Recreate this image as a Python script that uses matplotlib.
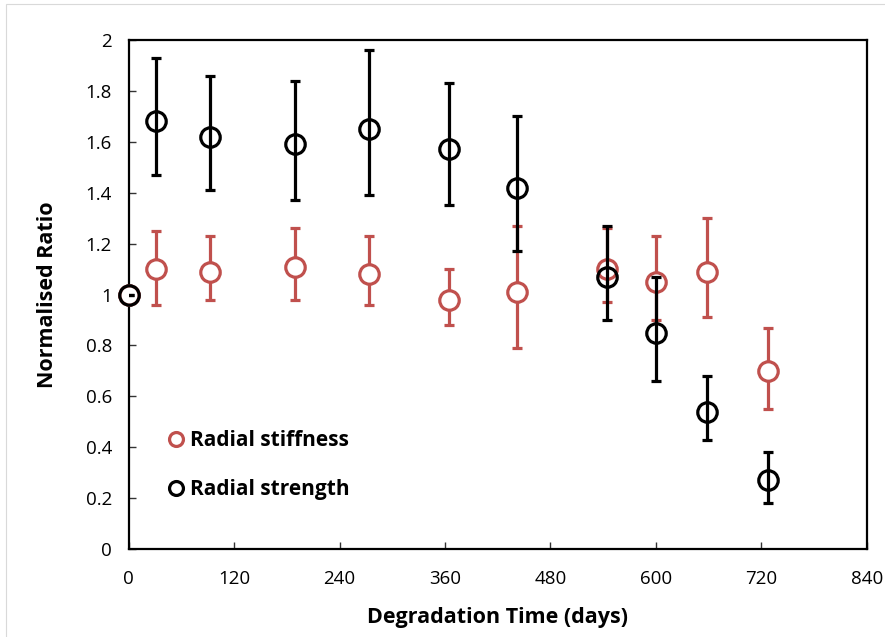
import matplotlib
matplotlib.use("Agg")
import matplotlib.pyplot as plt
from matplotlib.patches import Rectangle

# Data
days = [0, 31, 92, 189, 273, 365, 442, 544, 600, 658, 728]
stiffness = [1.00, 1.10, 1.09, 1.11, 1.08, 0.98, 1.01, 1.10, 1.05, 1.09, 0.70]
stiff_lo = [0.00, 0.14, 0.11, 0.13, 0.12, 0.10, 0.22, 0.13, 0.15, 0.18, 0.15]
stiff_hi = [0.00, 0.15, 0.14, 0.15, 0.15, 0.12, 0.26, 0.16, 0.18, 0.21, 0.17]
strength = [1.00, 1.68, 1.62, 1.59, 1.65, 1.57, 1.42, 1.07, 0.85, 0.54, 0.27]
str_lo = [0.00, 0.21, 0.21, 0.22, 0.26, 0.22, 0.25, 0.17, 0.19, 0.11, 0.09]
str_hi = [0.00, 0.25, 0.24, 0.25, 0.31, 0.26, 0.28, 0.20, 0.22, 0.14, 0.11]

x_ticks = [0, 120, 240, 360, 480, 600, 720, 840]
y_ticks = [0, 0.2, 0.4, 0.6, 0.8, 1, 1.2, 1.4, 1.6, 1.8, 2]
y_ticklabels = ["0", "0.2", "0.4", "0.6", "0.8", "1", "1.2", "1.4", "1.6", "1.8", "2"]

red = "#C0504D"
plt.rcParams['font.family'] = ['Open Sans', 'DejaVu Sans']

fig = plt.figure(figsize=(8.85, 6.37), dpi=100)
fig.patches.append(Rectangle((6/885, -0.01), 1.0, (637-4)/637 + 0.01, transform=fig.transFigure,
                             fill=False, edgecolor="#D9D9D9", linewidth=0.8))
ax = fig.add_axes([128.7/885, (637-549)/637, (866.7-128.7)/885, (549-40)/637])

e1 = ax.errorbar(days, stiffness, yerr=[stiff_lo, stiff_hi], fmt='o', mfc='white', mec=red, ecolor=red,
                 ms=14, mew=2.3, elinewidth=2.3, capsize=3.5, capthick=2.3, zorder=3)
e2 = ax.errorbar(days, strength, yerr=[str_lo, str_hi], fmt='o', mfc='none', mec='black', ecolor='black',
                 ms=14, mew=2.3, elinewidth=2.3, capsize=3.5, capthick=2.3, zorder=4)
for e in (e1, e2):
    e[0].set_clip_on(False)

# legend handles
h1, = ax.plot([], [], 'o', mfc='white', mec=red, ms=10, mew=2.3, label='Radial stiffness')
h2, = ax.plot([], [], 'o', mfc='white', mec='black', ms=10, mew=2.3, label='Radial strength')
leg = ax.legend(handles=[h1, h2], loc='upper left', bbox_to_anchor=(0.025, 0.27), frameon=False,
                handletextpad=0.15, handlelength=1.0, labelspacing=1.35,
                prop={'weight': 'bold', 'size': 15})

ax.set_xlim(0, 840)
ax.set_ylim(0, 2)
ax.set_xticks(x_ticks)
ax.set_xticklabels([str(t) for t in x_ticks])
ax.set_yticks(y_ticks)
ax.set_yticklabels(y_ticklabels)
ax.tick_params(direction='in', length=5, width=1, labelsize=13.5, pad=12, color='#333333')
ax.tick_params(axis='x', pad=15)
for s in ax.spines.values():
    s.set_linewidth(1.6)
ax.set_xlabel("Degradation Time (days)", fontsize=15.5, fontweight='bold', labelpad=14)
ax.set_ylabel("Normalised Ratio", fontsize=15.5, fontweight='bold', labelpad=20)

fig.savefig("out.png", dpi=100)
